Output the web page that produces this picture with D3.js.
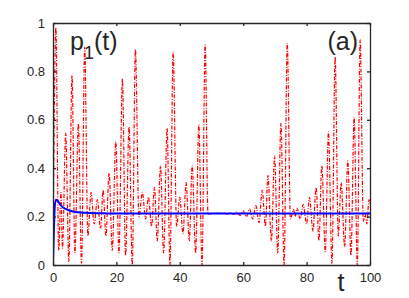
<!DOCTYPE html>
<html>
<head>
<meta charset="utf-8">
<script src="https://cdn.jsdelivr.net/npm/d3@7"></script>
<style>
  body { margin: 0; background: #fff; }
  svg { display: block; font-family: "Liberation Sans", Arial, sans-serif; }
</style>
</head>
<body>
<div id="container"></div>
<script>
// red dash-dot curve: p1(t) (peaks and troughs)
var redT = [0, 0.9, 1.8, 2.5, 3.0, 4.0, 5.0, 6.0, 6.9, 8.0, 9.0, 10.0, 11.0, 12.0, 13.0, 14.0, 15.0,
  15.8, 16.7, 17.7, 18.7, 19.8, 20.8, 21.9, 22.9, 24.0, 25.0, 26.0, 27.1, 28.2, 29.2, 30.1, 31.1,
  32.0, 32.9, 33.9, 34.9, 36.0, 36.9, 37.9, 39.0, 40.0, 41.0, 42.0, 43.0, 43.9, 45.0, 46.0, 47.0,
  48.0, 48.9, 50, 52, 54, 55, 56, 57, 58, 59, 60, 61, 62, 63, 64, 65, 66, 67, 67.8, 68.9, 69.9,
  70.9, 71.9, 72.9, 73.9, 74.9, 75.9, 76.4, 77, 78, 78.9, 80, 80.9, 82, 83, 83.9, 84.8, 85.9,
  86.9, 88, 89, 90, 90.9, 92, 93, 94, 95, 96, 96.9, 97.9, 98.5, 99, 99.7, 100];
var redP = [0, 0.98, 0.06, 0.30, 0.07, 0.545, 0.014, 0.785, 0.05, 0.583, 0.008, 0.90, 0.12, 0.30, 0.17, 0.27, 0.15,
  0.31, 0.12, 0.38, 0.06, 0.51, 0.05, 0.77, 0.04, 0.57, 0.0, 0.89, 0.20, 0.30, 0.19, 0.28, 0.16,
  0.32, 0.10, 0.41, 0.05, 0.565, 0.0, 0.88, 0.16, 0.28, 0.13, 0.34, 0.10, 0.41, 0.05, 0.58, 0.0,
  0.91, 0.21, 0.213, 0.213, 0.214, 0.211, 0.216, 0.209, 0.219, 0.205, 0.224, 0.199, 0.232, 0.19, 0.245, 0.175, 0.31, 0.16, 0.37, 0.10, 0.45,
  0.05, 0.585, 0.0, 0.916, 0.19, 0.23, 0.20, 0.235, 0.19, 0.25, 0.17, 0.28, 0.14, 0.32, 0.10, 0.41, 0.055,
  0.55, 0.007, 0.86, 0.12, 0.34, 0.076, 0.43, 0.04, 0.61, 0.0, 0.93, 0.18, 0.21, 0.17, 0.27, 0.25];

// blue solid curve
var blueT = [0, 0.3, 0.6, 1, 1.5, 2, 3, 4, 5, 6, 8, 10, 15, 20, 100];
var blueP = [0, 0.15, 0.25, 0.27, 0.265, 0.255, 0.24, 0.232, 0.226, 0.222, 0.218, 0.216, 0.214, 0.213, 0.213];

var xTicks = [0, 20, 40, 60, 80, 100];
var yTicks = [0, 0.2, 0.4, 0.6, 0.8, 1];

var w = 409, h = 298;
var m = {left: 53, right: 370, top: 23, bottom: 265};

var svg = d3.select("div#container")
  .append("svg")
  .attr("width", w)
  .attr("height", h);

svg.append("rect").attr("width", w).attr("height", h).attr("fill", "#fff");

var x = d3.scaleLinear().domain([0, 100]).range([m.left, m.right]);
var y = d3.scaleLinear().domain([0, 1]).range([m.bottom, m.top]);

var axisColor = "#262626";

// clip so lines stay in the box
svg.append("clipPath").attr("id", "clip")
  .append("rect")
  .attr("x", m.left).attr("y", m.top)
  .attr("width", m.right - m.left).attr("height", m.bottom - m.top);

var plot = svg.append("g").attr("clip-path", "url(#clip)");

var redData = redT.map(function(t, i) { return [t, redP[i]]; });
var blueData = blueT.map(function(t, i) { return [t, blueP[i]]; });

var line = d3.line()
  .x(function(d) { return x(d[0]); })
  .y(function(d) { return y(d[1]); })
  .curve(d3.curveMonotoneX);

plot.append("path")
  .datum(redData)
  .attr("d", line)
  .attr("fill", "none")
  .attr("stroke", "#ff0000")
  .attr("stroke-width", 1.2)
  .attr("stroke-dasharray", "4,1.5,1,1.5");

plot.append("path")
  .datum(blueData)
  .attr("d", line)
  .attr("fill", "none")
  .attr("stroke", "#0000ff")
  .attr("stroke-width", 2);

// axes: bottom/left with labels, top/right ticks only (inside ticks)
var tickLen = 3;
svg.append("g")
  .attr("transform", "translate(0," + m.bottom + ")")
  .call(d3.axisBottom(x).tickValues(xTicks).tickSizeInner(-tickLen).tickSizeOuter(0).tickPadding(8))
  .call(styleAxis);

svg.append("g")
  .attr("transform", "translate(0," + m.top + ")")
  .call(d3.axisTop(x).tickValues(xTicks).tickSizeInner(-tickLen).tickSizeOuter(0).tickFormat(""))
  .call(styleAxis);

svg.append("g")
  .attr("transform", "translate(" + m.left + ",0)")
  .call(d3.axisLeft(y).tickValues(yTicks).tickSizeInner(-tickLen).tickSizeOuter(0).tickPadding(8)
    .tickFormat(function(d) { return d3.format("")(d); }))
  .call(styleAxis);

svg.append("g")
  .attr("transform", "translate(" + m.right + ",0)")
  .call(d3.axisRight(y).tickValues(yTicks).tickSizeInner(-tickLen).tickSizeOuter(0).tickFormat(""))
  .call(styleAxis);

function styleAxis(g) {
  g.select(".domain").attr("stroke", axisColor).attr("stroke-width", 1.3);
  g.selectAll(".tick line").attr("stroke", axisColor).attr("stroke-width", 1.3);
  g.selectAll(".tick text").attr("fill", axisColor).style("font-size", "13px")
    .style("font-family", "'Liberation Sans', Arial, sans-serif");
}

// labels
var lab = svg.append("text")
  .attr("x", 70).attr("y", 50)
  .attr("fill", axisColor)
  .style("font-size", "25px");
lab.append("tspan").text("p");
lab.append("tspan").attr("dy", 9).style("font-size", "18px").text("1");
lab.append("tspan").attr("dy", -9).text("(t)");

svg.append("text")
  .attr("x", 358).attr("y", 50)
  .attr("text-anchor", "end")
  .attr("fill", axisColor)
  .style("font-size", "25px")
  .text("(a)");

svg.append("text")
  .attr("x", 341).attr("y", 291)
  .attr("text-anchor", "middle")
  .attr("fill", axisColor)
  .style("font-size", "25px")
  .text("t");
</script>
</body>
</html>
